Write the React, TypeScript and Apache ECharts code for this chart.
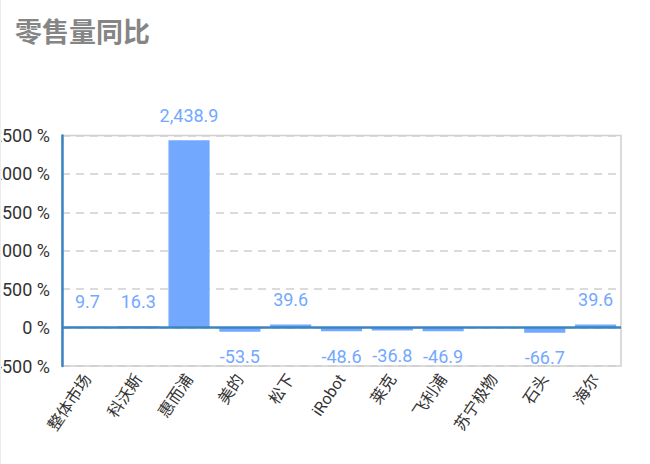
import React, { useEffect, useRef } from 'react';
import * as echarts from 'echarts';

const categories = ['整体市场', '科沃斯', '惠而浦', '美的', '松下', 'iRobot', '莱克', '飞利浦', '苏宁极物', '石头', '海尔'];
const yoyValues: (number | null)[] = [9.7, 16.3, 2438.9, -53.5, 39.6, -48.6, -36.8, -46.9, null, -66.7, 39.6];
const yTicks = { min: -500, max: 2500, interval: 500 };

const FONT = 'Roboto, "Noto Sans CJK SC", sans-serif';
const BAR_COLOR = '#73a8ff';
const AXIS_BLUE = '#3b84c2';

const App: React.FC = () => {
  const chartRef = useRef<HTMLDivElement>(null);

  useEffect(() => {
    if (!chartRef.current) return;
    const chart = echarts.init(chartRef.current, undefined, { renderer: 'svg' });

    const seriesData = yoyValues.map(v =>
      v === null
        ? '-'
        : { value: v, label: { position: v < 0 ? 'bottom' : 'top' } }
    );

    const option = {
      animation: false,
      textStyle: { fontFamily: FONT },
      title: {
        text: '零售量同比',
        left: 9,
        top: 12,
        textStyle: { color: '#858585', fontSize: 27, fontWeight: 'bold', fontFamily: '"Noto Sans CJK SC", sans-serif' }
      },
      grid: {
        left: 61,
        right: 29,
        top: 135.5,
        bottom: 98,
        show: true,
        borderColor: '#d0d0d0',
        borderWidth: 1.5,
        outerBoundsMode: 'none',
        containLabel: false
      },
      xAxis: {
        type: 'category',
        data: categories,
        axisLine: { show: false, onZero: false },
        axisTick: { show: false },
        axisLabel: {
          interval: 0,
          rotate: 56,
          margin: 10,
          color: '#333',
          fontSize: 16,
          fontFamily: FONT
        }
      },
      yAxis: {
        type: 'value',
        min: yTicks.min,
        max: yTicks.max,
        interval: yTicks.interval,
        axisLine: { show: true, lineStyle: { color: AXIS_BLUE, width: 2.5 } },
        axisTick: { show: false },
        axisLabel: {
          formatter: (v: number) => `${v} %`,
          color: '#333',
          fontSize: 18,
          margin: 12,
          fontFamily: FONT
        },
        splitLine: {
          show: true,
          lineStyle: { color: '#d0d0d0', type: [8, 6], width: 1.5 }
        }
      },
      series: [
        {
          type: 'bar',
          data: seriesData,
          barCategoryGap: '19%',
          itemStyle: { color: BAR_COLOR },
          label: {
            show: true,
            distance: 16,
            color: BAR_COLOR,
            fontSize: 18,
            fontFamily: FONT,
            formatter: (p: any) =>
              Number(p.value).toLocaleString('en-US', { minimumFractionDigits: 1, maximumFractionDigits: 1 })
          },
          markLine: {
            silent: true,
            symbol: 'none',
            label: { show: false },
            lineStyle: { color: AXIS_BLUE, width: 2.5, type: 'solid' },
            data: [{ yAxis: 0 }]
          }
        }
      ]
    } as any;

    chart.setOption(option);
    return () => chart.dispose();
  }, []);

  return (
    <div
      ref={chartRef}
      style={{
        position: 'absolute',
        left: 0,
        top: 0,
        width: 650,
        height: 464,
        borderLeft: '1px solid #ececec',
        boxSizing: 'border-box',
        background: '#fff'
      }}
    />
  );
};

export default App;
